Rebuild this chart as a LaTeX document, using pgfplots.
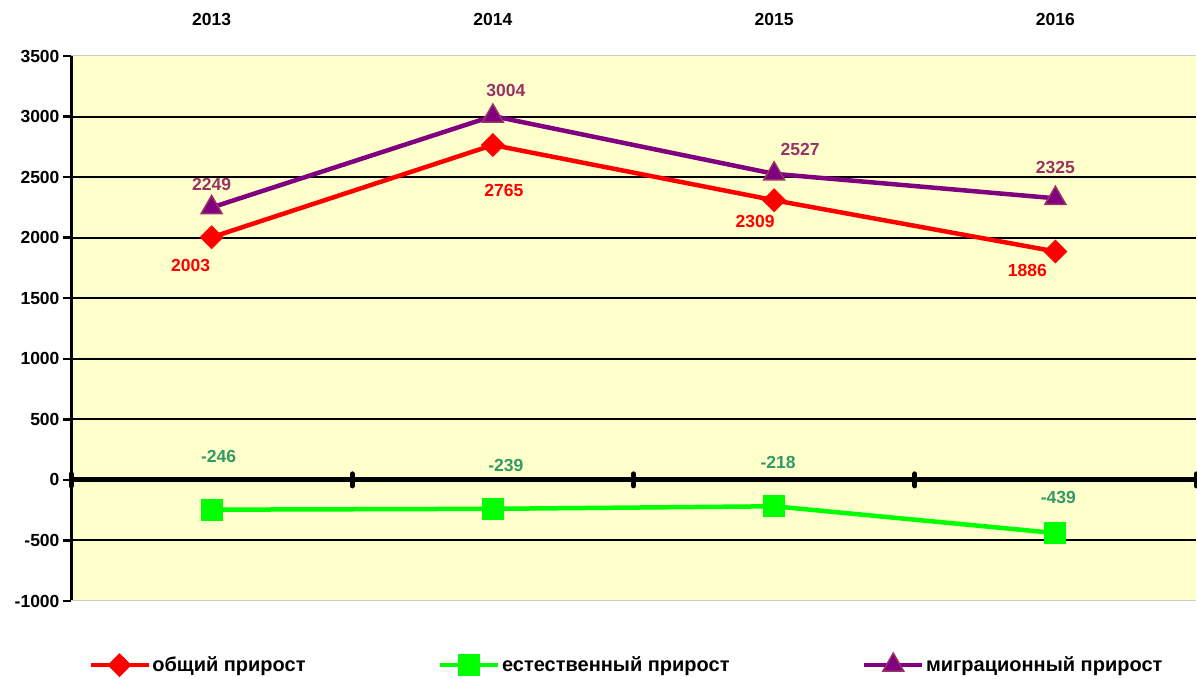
\documentclass[border=0pt]{standalone}
\usepackage{fontspec}
\setmainfont{Liberation Sans}
\usepackage{pgfplots}
\pgfplotsset{compat=1.18}
\definecolor{bgy}{HTML}{FFFFCC}
\definecolor{lred}{HTML}{FF0000}
\definecolor{lgreen}{HTML}{00FF00}
\definecolor{lpurple}{HTML}{800080}
\definecolor{tgreen}{HTML}{339966}
\definecolor{tmauve}{HTML}{993366}
\newcommand{\lf}{\fontsize{17.5}{20}\selectfont\bfseries}
\newcommand{\lgf}{\fontsize{20}{22}\selectfont\bfseries}
\begin{document}
\begin{tikzpicture}[x=1pt,y=1pt]
\path[use as bounding box] (0,0) rectangle (1197,679);
\begin{axis}[
  at={(71pt,78pt)}, anchor=south west,
  scale only axis, width=1125pt, height=545pt,
  xmin=-0.5, xmax=3.5, ymin=-1000, ymax=3500,
  axis background/.style={fill=bgy},
  separate axis lines,
  axis y line*=left, axis x line*=top,
  x axis line style={gray!40, line width=1pt},
  y axis line style={black, line width=3pt},
  xtick={0,1,2,3}, xticklabels={2013,2014,2015,2016},
  xtick style={draw=none},
  xticklabel style={font=\lf, yshift=19pt},
  ytick={-500,0,...,3000},
  extra y ticks={-1000,3500},
  extra y tick style={grid=none, ytick style={black, line width=2.5pt}},
  ytick style={black, line width=2.5pt},
  major tick length=8pt, tick align=outside,
  yticklabel style={font=\lf},
  /pgf/number format/assume math mode=true,
  /pgf/number format/1000 sep={},
  ymajorgrids, grid style={black, line width=2pt},
  clip=false,
  legend columns=3,
  legend cell align=left,
  legend style={draw=none, fill=none, at={(0.0152,-0.117)}, anchor=west,
    font=\lgf, inner sep=0pt,
    /tikz/every even column/.append style={column sep=131pt},
    nodes={inner sep=1.5pt}},
  legend image code/.code={\draw[mark repeat=2,mark phase=2,#1] plot coordinates {(0pt,0pt) (29pt,0pt) (58pt,0pt)};},
]
% bottom border and zero line
\draw[gray!40, line width=1pt] (rel axis cs:0,0) -- (rel axis cs:1,0);
\draw[black, line width=5pt] (axis cs:-0.5,0) -- (axis cs:3.5,0);
\draw[black, line width=5pt, line cap=round] ([yshift=-6pt]axis cs:-0.5,0) -- ([yshift=6pt]axis cs:-0.5,0);
\draw[black, line width=5pt, line cap=round] ([yshift=-6pt]axis cs:0.5,0) -- ([yshift=6pt]axis cs:0.5,0);
\draw[black, line width=5pt, line cap=round] ([yshift=-6pt]axis cs:1.5,0) -- ([yshift=6pt]axis cs:1.5,0);
\draw[black, line width=5pt, line cap=round] ([yshift=-6pt]axis cs:2.5,0) -- ([yshift=6pt]axis cs:2.5,0);
\draw[black, line width=5pt, line cap=round] ([yshift=-6pt]axis cs:3.5,0) -- ([yshift=6pt]axis cs:3.5,0);
\addplot[lred, line width=4.5pt, mark=square*, mark size=8pt,
  mark options={rotate=45, solid, line width=1pt, fill=lred, draw=lred}]
  coordinates {(0,2003) (1,2765) (2,2309) (3,1886)};
\addlegendentry{общий прирост}
\addplot[lgreen, line width=4.5pt, mark=square*, mark size=10.5pt,
  mark options={solid, line width=1pt, fill=lgreen, draw=lgreen}]
  coordinates {(0,-246) (1,-239) (2,-218) (3,-439)};
\addlegendentry{естественный прирост}
\addplot[lpurple, line width=4.5pt, mark=triangle*, mark size=12pt,
  mark options={solid, line width=1.5pt, fill=lpurple, draw=tmauve}]
  coordinates {(0,2249) (1,3004) (2,2527) (3,2325)};
\addlegendentry{миграционный прирост}
% data labels
\node[font=\lf, text=lred] at (axis cs:0,2003) [xshift=-21pt, yshift=-28pt] {2003};
\node[font=\lf, text=lred] at (axis cs:1,2765) [xshift=11pt, yshift=-45pt] {2765};
\node[font=\lf, text=lred] at (axis cs:2,2309) [xshift=-19pt, yshift=-21pt] {2309};
\node[font=\lf, text=lred] at (axis cs:3,1886) [xshift=-28pt, yshift=-19pt] {1886};
\node[font=\lf, text=tmauve] at (axis cs:0,2249) [xshift=0pt, yshift=23pt] {2249};
\node[font=\lf, text=tmauve] at (axis cs:1,3004) [xshift=13pt, yshift=26pt] {3004};
\node[font=\lf, text=tmauve] at (axis cs:2,2527) [xshift=26pt, yshift=24pt] {2527};
\node[font=\lf, text=tmauve] at (axis cs:3,2325) [xshift=0pt, yshift=31pt] {2325};
\node[font=\lf, text=tgreen] at (axis cs:0,-246) [xshift=7pt, yshift=53pt] {-246};
\node[font=\lf, text=tgreen] at (axis cs:1,-239) [xshift=13pt, yshift=43pt] {-239};
\node[font=\lf, text=tgreen] at (axis cs:2,-218) [xshift=4pt, yshift=44pt] {-218};
\node[font=\lf, text=tgreen] at (axis cs:3,-439) [xshift=3pt, yshift=36pt] {-439};
\end{axis}
\end{tikzpicture}
\end{document}
